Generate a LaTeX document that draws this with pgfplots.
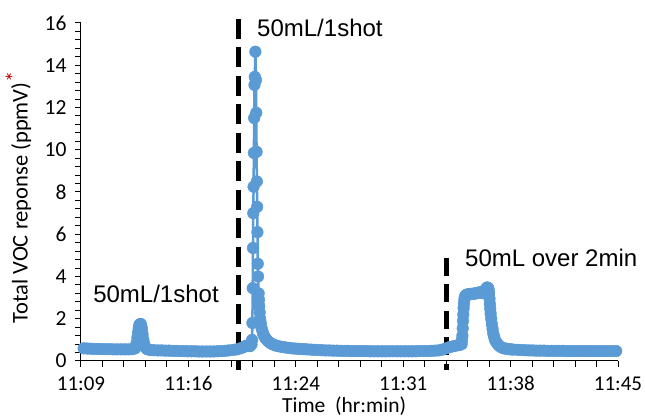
\documentclass[border=0pt]{standalone}
\usepackage{pgfplots}
\pgfplotsset{compat=1.18}
\usepackage{fontspec}
\setmainfont{Liberation Sans}
\newfontfamily\carlito{Carlito}
\definecolor{voc}{HTML}{5B9BD5}
\definecolor{star}{HTML}{C00000}

\begin{document}
\begin{tikzpicture}
\useasboundingbox (-81pt,-58pt) rectangle (564pt,361pt);
\begin{axis}[scale only axis,width=537pt,height=338pt,
  xmin=0,xmax=36,ymin=0,ymax=16,clip=false,
  axis lines*=left,axis line style={black,line width=1pt},
  xtick={0,7.2,14.4,21.6,28.8,36},
  xticklabels={11:09,11:16,11:24,11:31,11:38,11:45},
  minor x tick num=4,
  ytick={0,2,...,16},minor y tick num=4,
  tick align=outside,tick style={black,line width=1pt},
  major tick length=6pt,minor tick length=6pt,
  /pgf/number format/assume math mode=true,
  xticklabel style={font=\carlito\fontsize{21}{21}\selectfont,yshift=-6pt},
  yticklabel style={font=\carlito\fontsize{21.5}{22}\selectfont,xshift=-5pt},
  xlabel={Time~~(hr:min)},
  xlabel style={font=\carlito\fontsize{21.5}{22}\selectfont,at={(axis description cs:0.49,-0.1538)},anchor=base},
  ylabel={Total VOC reponse (ppmV)\raisebox{6pt}{\textcolor{star}{*}}},
  ylabel style={font=\carlito\fontsize{22.5}{23}\selectfont,at={(axis description cs:-0.0996,0.484)},anchor=base}]

% baseline, small shot, big shot, 2-min release
\addplot[color=voc,line width=2.5pt,mark=*,mark size=5.8pt,mark options={solid,fill=voc,draw=voc,line width=0.5pt}] coordinates {
(0.18,0.60) (0.43,0.59) (0.68,0.58) (0.93,0.57) (1.18,0.57) (1.43,0.56) (1.68,0.56) (1.93,0.56)
(2.18,0.55) (2.43,0.55) (2.68,0.55) (2.93,0.55) (3.18,0.55) (3.43,0.56) (3.63,0.60) (3.68,0.72) (3.73,0.85)
(3.78,1.10) (3.83,1.35) (3.87,1.55) (3.91,1.70) (3.96,1.74) (4.01,1.75) (4.05,1.62) (4.09,1.50) (4.13,1.25)
(4.18,1.00) (4.23,0.82) (4.28,0.70) (4.35,0.62) (4.43,0.56) (4.63,0.52)
(4.88,0.51) (5.15,0.50) (5.40,0.50) (5.65,0.49) (5.90,0.49) (6.15,0.48) (6.40,0.48) (6.65,0.47)
(6.90,0.47) (7.15,0.46) (7.40,0.46) (7.65,0.46) (7.90,0.45) (8.15,0.45) (8.40,0.45) (8.65,0.45)
(8.90,0.45) (9.15,0.46) (9.40,0.47) (9.65,0.48) (9.90,0.50) (10.18,0.52) (10.44,0.55) (10.70,0.60)
(10.90,0.66) (11.05,0.72) (11.20,0.72) (11.32,0.70) (11.43,0.78)
(11.47,1.00) (11.49,1.80) (11.51,3.45) (11.53,5.35) (11.55,7.00) (11.57,8.25) (11.59,9.85) (11.61,11.50)
(11.63,13.07) (11.65,13.45) (11.69,14.64) (11.73,13.30) (11.75,11.75) (11.77,9.90) (11.79,8.50) (11.81,7.30)
(11.83,6.10) (11.85,4.60) (11.87,4.00) (11.91,3.20) (11.93,2.90) (11.95,2.60) (11.98,2.30) (12.01,2.00)
(12.05,1.80) (12.09,1.60) (12.15,1.45) (12.21,1.30) (12.28,1.18) (12.36,1.08) (12.46,1.00) (12.56,0.92)
(12.68,0.86) (12.81,0.80) (12.96,0.76) (13.11,0.72) (13.30,0.69) (13.52,0.66) (13.72,0.64) (13.93,0.62)
(14.13,0.60) (14.33,0.59) (14.54,0.58) (14.74,0.57) (14.94,0.56) (15.14,0.55)
(15.40,0.54) (15.65,0.53) (15.90,0.52) (16.15,0.51) (16.40,0.50) (16.65,0.50) (16.90,0.49) (17.15,0.49)
(17.40,0.48) (17.65,0.48) (17.90,0.48) (18.15,0.47) (18.40,0.47) (18.65,0.47) (18.90,0.47) (19.15,0.47)
(19.40,0.46) (19.65,0.46) (19.90,0.46) (20.17,0.46) (20.42,0.46) (20.67,0.46) (20.92,0.46) (21.18,0.46)
(21.44,0.46) (21.70,0.46) (21.95,0.46) (22.20,0.46) (22.46,0.46) (22.71,0.47) (22.96,0.47) (23.22,0.47)
(23.47,0.48) (23.72,0.49) (23.97,0.50) (24.23,0.54) (24.48,0.60) (24.73,0.66) (24.98,0.70) (25.24,0.74)
(25.39,0.76) (25.52,0.80)
(25.54,1.00) (25.57,1.20) (25.59,1.55) (25.61,1.90) (25.63,2.20) (25.65,2.50) (25.675,2.72) (25.70,2.90)
(25.73,3.00) (25.76,3.08) (25.81,3.12) (25.86,3.14) (25.92,3.15) (25.99,3.16) (26.07,3.17) (26.14,3.18)
(26.22,3.18) (26.29,3.18) (26.37,3.19) (26.44,3.20) (26.52,3.21) (26.59,3.22) (26.67,3.24) (26.74,3.25)
(26.80,3.23) (26.86,3.22) (26.93,3.26) (26.99,3.30) (27.06,3.34) (27.12,3.38) (27.17,3.43) (27.22,3.48)
(27.26,3.47) (27.30,3.45) (27.33,3.35) (27.36,3.20) (27.385,2.95) (27.41,2.70) (27.435,2.47) (27.46,2.25)
(27.50,2.00) (27.54,1.75) (27.59,1.52) (27.64,1.30) (27.70,1.13) (27.75,1.00) (27.83,0.90) (27.91,0.82)
(28.00,0.74) (28.11,0.68) (28.23,0.63) (28.36,0.60) (28.51,0.58) (28.67,0.56) (28.82,0.55) (28.97,0.54)
(29.27,0.53) (29.53,0.52) (29.78,0.51) (30.03,0.50) (30.28,0.50) (30.53,0.49) (30.79,0.49) (31.04,0.49)
(31.29,0.48) (31.55,0.48) (31.80,0.48) (32.05,0.48) (32.30,0.48) (32.56,0.47) (32.81,0.47) (33.06,0.47)
(33.31,0.47) (33.57,0.47) (33.82,0.47) (34.07,0.47) (34.32,0.47) (34.58,0.47) (34.83,0.47) (35.08,0.47)
(35.33,0.47) (35.58,0.47) (35.88,0.47)
};

% injection markers
\addplot[black,line width=5pt,dash pattern=on 20pt off 8.5pt] coordinates {(10.53,16.2) (10.53,-0.43)};
\addplot[black,line width=5pt,dash pattern=on 18pt off 8.5pt] coordinates {(24.47,4.88) (24.47,-0.43)};

\node[anchor=base west,inner sep=0pt,font=\fontsize{24}{24}\selectfont] at (axis cs:11.80,15.38) {50mL/1shot};
\node[anchor=base west,inner sep=0pt,font=\fontsize{24}{24}\selectfont] at (axis cs:0.81,2.79) {50mL/1shot};
\node[anchor=base west,inner sep=0pt,font=\fontsize{24}{24}\selectfont] at (axis cs:25.74,4.45) {50mL over 2min};
\end{axis}
\end{tikzpicture}
\end{document}
